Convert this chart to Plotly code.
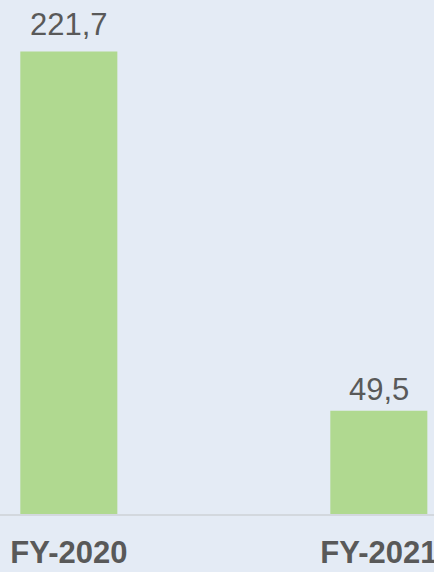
import plotly.graph_objects as go

categories = ["FY-2020", "FY-2021"]
values = [221.7, 49.5]
value_labels = ["221,7", "49,5"]

BG = "#E4EBF5"
GREEN = "#B0D990"
TEXT = "#595959"
FONT = "Liberation Sans, Arial"

fig = go.Figure()
fig.add_trace(go.Bar(
    x=[0, 1],
    y=values,
    width=0.313,
    marker=dict(color=GREEN, line=dict(width=0)),
    hoverinfo="skip",
))

# value labels above the bars (first one sits a bit higher)
label_shift = [8, 2]
for i, (v, lab) in enumerate(zip(values, value_labels)):
    fig.add_annotation(
        x=i, y=v, text=lab, showarrow=False,
        yanchor="bottom", yshift=label_shift[i],
        font=dict(family=FONT, size=31, color=TEXT),
    )

fig.update_layout(
    width=434,
    height=572,
    margin=dict(l=0, r=0, t=0, b=58, autoexpand=False),
    paper_bgcolor=BG,
    plot_bgcolor=BG,
    showlegend=False,
    xaxis=dict(
        range=[-0.222, 1.178],
        tickvals=[0, 1],
        ticktext=categories,
        tickfont=dict(family=FONT, size=31, color=TEXT, weight="bold"),
        ticklabeloverflow="allow",
        showgrid=False,
        zeroline=False,
        showline=True,
        linecolor="#D3D8DE",
        linewidth=2,
        ticks="outside",
        ticklen=10,
        tickcolor="rgba(0,0,0,0)",
    ),
    yaxis=dict(range=[0, 246.4], visible=False, showgrid=False),
)

fig.write_html("out.html", config={"displayModeBar": False},
               post_script="document.body.style.margin='0';")
